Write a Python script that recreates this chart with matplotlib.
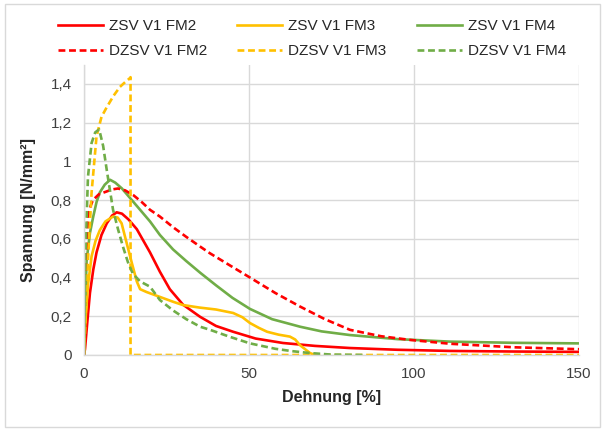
import matplotlib.pyplot as plt
from matplotlib.patches import Rectangle

plt.rcParams['font.family'] = ['Liberation Sans', 'DejaVu Sans']

# Dehnung [%] / Spannung [N/mm²]
x_zsv_fm2 = [0, 0.3, 1.0, 1.8, 2.8, 3.8, 5.3, 6.9, 8.5, 9.9, 11.5, 13.5, 16, 18, 20, 23, 26, 30, 35.2, 40, 45.2, 52, 60.3, 70, 80.6, 95, 111, 130, 150]
y_zsv_fm2 = [0, 0.03, 0.17, 0.32, 0.44, 0.53, 0.62, 0.68, 0.72, 0.737, 0.73, 0.70, 0.65, 0.59, 0.53, 0.43, 0.34, 0.26, 0.197, 0.15, 0.12, 0.085, 0.062, 0.047, 0.036, 0.027, 0.021, 0.018, 0.016]

x_zsv_fm3 = [0, 0.3, 1.2, 2.3, 3.5, 4.8, 6.5, 8.8, 10.2, 11.4, 12.9, 14.5, 16, 17, 19, 23, 27, 30, 35, 40, 45.2, 48, 50.3, 53, 55.5, 59, 62.4, 64, 65.5, 68.5, 70]
y_zsv_fm3 = [0, 0.146, 0.36, 0.51, 0.59, 0.645, 0.69, 0.715, 0.71, 0.68, 0.58, 0.475, 0.38, 0.34, 0.325, 0.30, 0.275, 0.258, 0.245, 0.235, 0.217, 0.195, 0.165, 0.14, 0.12, 0.105, 0.095, 0.08, 0.05, 0.01, 0]

x_zsv_fm4 = [0, 0.3, 0.8, 1.8, 2.8, 3.8, 4.8, 6.3, 7.9, 9.5, 11.5, 14, 17, 20, 23, 27, 31, 35.2, 40, 45, 50.3, 57, 65.5, 72, 80.6, 95, 111, 130, 150]
y_zsv_fm4 = [0, 0.25, 0.49, 0.63, 0.715, 0.79, 0.84, 0.88, 0.905, 0.89, 0.86, 0.81, 0.75, 0.69, 0.62, 0.545, 0.485, 0.425, 0.36, 0.295, 0.238, 0.185, 0.146, 0.122, 0.103, 0.082, 0.069, 0.063, 0.06]

x_dzsv_fm2 = [0, 0.4, 1.2, 2.0, 2.7, 4.5, 6.9, 8.5, 10.3, 12.5, 15, 17.5, 20, 23, 27, 31, 35.2, 38.2, 44, 50.3, 58, 65.5, 73, 80.6, 90, 98.8, 111, 130, 150]
y_dzsv_fm2 = [0, 0.38, 0.71, 0.77, 0.80, 0.83, 0.845, 0.855, 0.86, 0.85, 0.825, 0.79, 0.75, 0.715, 0.66, 0.61, 0.56, 0.525, 0.465, 0.40, 0.32, 0.25, 0.185, 0.13, 0.097, 0.078, 0.058, 0.04, 0.03]

x_dzsv_fm3 = [0, 0.5, 1.2, 2.3, 3.8, 5.3, 6.9, 9.0, 10.9, 12.5, 13.9, 14.1, 14.1, 150]
y_dzsv_fm3 = [0, 0.2, 0.49, 0.84, 1.13, 1.23, 1.28, 1.34, 1.385, 1.41, 1.43, 1.435, 0, 0]

x_dzsv_fm4 = [0, 0.4, 1.2, 2.3, 3.4, 4.6, 5.8, 6.9, 8.8, 10.3, 11.8, 13.3, 14.8, 17, 20, 23, 27, 31, 35.2, 38.2, 44, 50.3, 58, 63, 68.5, 75, 85]
y_dzsv_fm4 = [0, 0.5, 0.92, 1.095, 1.15, 1.165, 1.08, 0.955, 0.75, 0.65, 0.56, 0.48, 0.42, 0.38, 0.353, 0.284, 0.23, 0.185, 0.146, 0.13, 0.095, 0.06, 0.032, 0.02, 0.01, 0.002, 0]

red = '#FF0000'
yellow = '#FFC000'
green = '#70AD47'

fig = plt.figure(figsize=(6.04, 4.30), dpi=100)
ax = fig.add_axes([84 / 604, 1 - 355 / 430, (579 - 84) / 604, (355 - 64.6) / 430])

lw = 1.9
dash = (2.6, 1.4)
l1, = ax.plot(x_zsv_fm2, y_zsv_fm2, color=red, lw=lw, label='ZSV V1 FM2')
l2, = ax.plot(x_zsv_fm3, y_zsv_fm3, color=yellow, lw=lw, label='ZSV V1 FM3')
l3, = ax.plot(x_zsv_fm4, y_zsv_fm4, color=green, lw=lw, label='ZSV V1 FM4')
l4, = ax.plot(x_dzsv_fm2, y_dzsv_fm2, color=red, lw=lw, dashes=dash, label='DZSV V1 FM2')
l5, = ax.plot(x_dzsv_fm3, y_dzsv_fm3, color=yellow, lw=lw, dashes=dash, label='DZSV V1 FM3')
l6, = ax.plot(x_dzsv_fm4, y_dzsv_fm4, color=green, lw=lw, dashes=dash, label='DZSV V1 FM4')

ax.set_xlim(0, 150)
ax.set_ylim(0, 1.5)
ax.set_xticks([0, 50, 100, 150])
ax.set_yticks([0, 0.2, 0.4, 0.6, 0.8, 1.0, 1.2, 1.4])
ax.set_yticklabels(['0', '0,2', '0,4', '0,6', '0,8', '1', '1,2', '1,4'])
ax.tick_params(length=0, labelsize=11, colors='#404040')
ax.tick_params(axis='y', pad=9)
ax.tick_params(axis='x', pad=9)
ax.grid(True, color='#d9d9d9', lw=1.0)
ax.set_axisbelow(True)
for s in ['top', 'right']:
    ax.spines[s].set_visible(False)
for s in ['left', 'bottom']:
    ax.spines[s].set_color('#d9d9d9')
    ax.spines[s].set_linewidth(1.0)

ax.set_xlabel('Dehnung [%]', fontsize=11.5, fontweight='bold', color='#262626', labelpad=6)
ax.set_ylabel('Spannung [N/mm²]', fontsize=11.5, fontweight='bold', color='#262626', labelpad=10)

# legend in 3 columns, 2 rows (row-major order like Excel)
handles = [l1, l4, l2, l5, l3, l6]
leg = fig.legend(handles=handles, labels=[h.get_label() for h in handles], ncol=3,
                 loc='center', bbox_to_anchor=(312 / 604, 1 - 38.5 / 430), frameon=False,
                 fontsize=11, handlelength=2.95, handletextpad=0.4, columnspacing=1.96,
                 labelspacing=0.7, borderpad=0)
for t in leg.get_texts():
    t.set_color('#262626')

# chart area border
fig.patches.append(Rectangle((5 / 604, 3 / 430), 595 / 604, 423 / 430, transform=fig.transFigure,
                             fill=False, edgecolor='#d9d9d9', lw=1.0))

fig.savefig('out.png', dpi=100)
